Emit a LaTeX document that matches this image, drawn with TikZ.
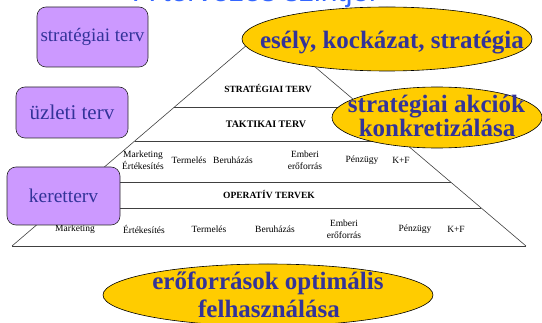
\documentclass[tikz,border=0pt]{standalone}
\usepackage{fontspec}
\setmainfont{Liberation Serif}
\newfontfamily\titlefont{Liberation Sans}
\usetikzlibrary{shapes.geometric,calc}
\definecolor{boxfill}{HTML}{CC99FF}
\definecolor{boxtext}{HTML}{333399}
\definecolor{ellfill}{HTML}{FFCC00}
\definecolor{titleblue}{HTML}{3366FF}
\definecolor{pline}{HTML}{404040}
\begin{document}
\begin{tikzpicture}[x=1pt,y=-1pt,
  planbox/.style={draw=black!85, line width=0.6pt, fill=boxfill, rounded corners=9pt, text=boxtext, inner sep=0pt},
  goal/.style={ellipse, draw=black, line width=0.6pt, fill=ellfill, inner sep=0pt},
  goaltext/.style={text=boxtext, font=\fontsize{25}{28}\selectfont\bfseries, inner sep=0pt, anchor=base},
  lvl/.style={font=\fontsize{9.5}{11}\selectfont\bfseries, inner sep=0pt},
  fn/.style={font=\fontsize{9.5}{12}\selectfont, align=center, inner sep=0pt},
  edgeline/.style={draw=pline, line width=0.6pt},
  rowline/.style={draw=pline, line width=0.9pt}]
\useasboundingbox (0,0) rectangle (542,323);
\clip (0,0) rectangle (542,323);

% title (cut off at the top, as in the reference)
\node[anchor=base, inner sep=0pt, text=titleblue, font=\titlefont\fontsize{30}{32}\selectfont] (title) at (255,1.5) {A tervezés szintjei};

% pyramid
\coordinate (A) at (268,27);
\coordinate (BL) at (12,246);
\coordinate (BR) at (526,246);
\foreach \n/\t in {a/0.3653,b/0.5205,c/0.7078,d/0.8265}{
  \coordinate (L\n) at ($(A)!\t!(BL)$);
  \coordinate (R\n) at ($(A)!\t!(BR)$);
}
\draw[edgeline] (BL) -- (A) -- (BR);
\draw[rowline] (BL) -- (BR);
\foreach \n in {a,b,c,d}{ \draw[rowline] (L\n) -- (R\n); }

% level labels
\node[lvl] (lst) at (268,88) {STRATÉGIAI TERV};
\node[lvl, font=\fontsize{10}{11}\selectfont\bfseries] (ltk) at (266,124) {TAKTIKAI TERV};
\node[lvl] (lop) at (269,194) {OPERATÍV TERVEK};

% functions, tactical row
\node[fn] (t1) at (143,160) {Marketing\\Értékesítés};
\node[fn] (t2) at (189,160) {Termelés};
\node[fn] (t3) at (233,160) {Beruházás};
\node[fn] (t4) at (305,160) {Emberi\\erőforrás};
\node[fn] (t5) at (362,160) {Pénzügy};
\node[fn] (t6) at (401,160) {K+F};

% functions, operative row
\node[fn] (o1) at (75,229) {Marketing};
\node[fn] (o2) at (144,229) {Értékesítés};
\node[fn] (o3) at (209,229) {Termelés};
\node[fn] (o4) at (275,229) {Beruházás};
\node[fn] (o5) at (344,229) {Emberi\\erőforrás};
\node[fn] (o6) at (415,229) {Pénzügy};
\node[fn] (o7) at (456,229) {K+F};

% plan boxes
\node[planbox, minimum width=111, minimum height=60, font=\fontsize{19}{21}\selectfont] (bst) at (92.5,37) {stratégiai terv};
\node[planbox, minimum width=112, minimum height=51, font=\fontsize{21}{23}\selectfont] (buz) at (72,112.5) {üzleti terv};
\node[planbox, minimum width=113, minimum height=58, font=\fontsize{19.5}{21}\selectfont] (bkt) at (63.5,196) {keretterv};

% goal ellipses
\node[goal, minimum width=290, minimum height=64] (e1) at (387,39) {};
\node[goaltext] (e1t) at (392,49) {esély, kockázat, stratégia};
\node[goal, minimum width=210, minimum height=61] (e2) at (437,117.5) {};
\node[goaltext] (e2a) at (436.5,113) {stratégiai akciók};
\node[goaltext] (e2b) at (437,137) {konkretizálása};
\node[goal, minimum width=330, minimum height=62] (e3) at (268,295) {};
\node[goaltext] (e3a) at (268,290) {erőforrások optimális};
\node[goaltext] (e3b) at (269,318) {felhasználása};
\end{tikzpicture}
\end{document}
